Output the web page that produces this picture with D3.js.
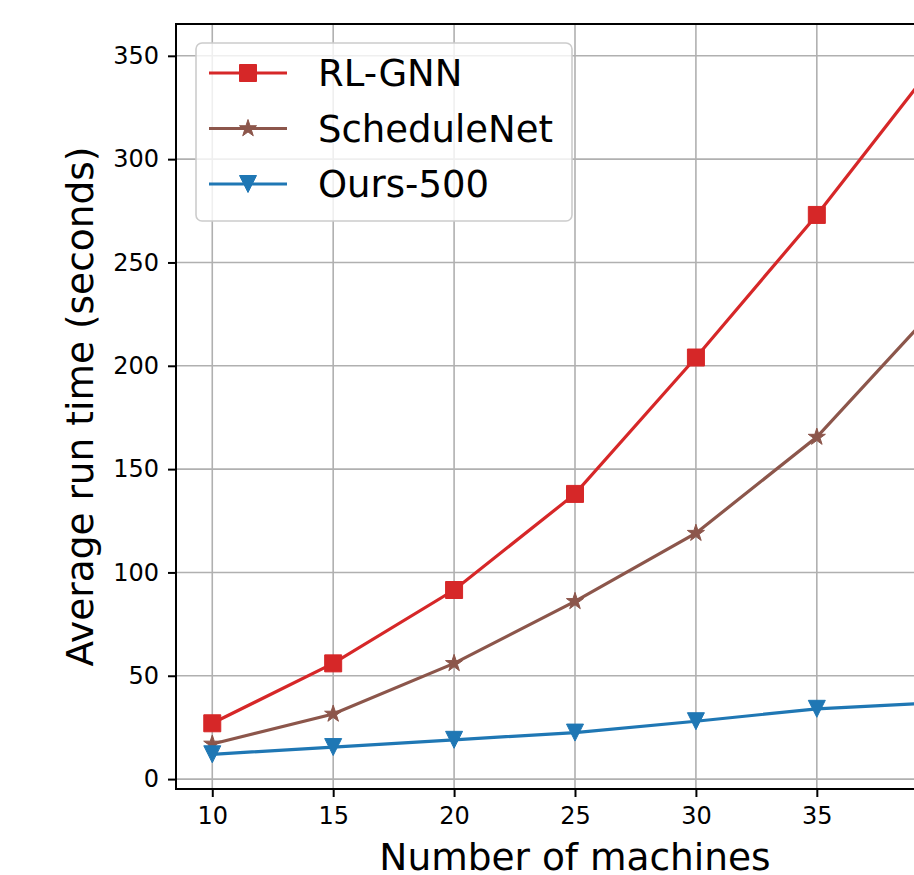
<!DOCTYPE html>
<html>
<head>
<meta charset="utf-8">
<script src="https://cdn.jsdelivr.net/npm/d3@7"></script>
<style>
  body { margin: 0; background: #fff; }
  svg { display: block; }
</style>
</head>
<body>
<div id="chart"></div>
<script>
// data
var machines = [10, 15, 20, 25, 30, 35, 40];
var rlGnn = [27, 56, 91.5, 138, 204, 273, 348];
var scheduleNet = [17, 31.5, 56, 86, 119, 165.5, 229];
var ours500 = [12, 15.5, 19, 22.5, 28, 34, 37];
var xTicks = [10, 15, 20, 25, 30, 35, 40];
var yTicks = [0, 50, 100, 150, 200, 250, 300, 350];

var series = [
    { name: "RL-GNN", values: rlGnn, color: "#d62728", marker: "square" },
    { name: "ScheduleNet", values: scheduleNet, color: "#8c564b", marker: "star" },
    { name: "Ours-500", values: ours500, color: "#1f77b4", marker: "tri" }
];

var width = 914, height = 875;
var axLeft = 176, axRight = 974, axTop = 24, axBottom = 789;

var svg = d3.select("#chart")
    .append("svg")
    .attr("width", width)
    .attr("height", height)
    .style("font-family", "DejaVu Sans");

// matplotlib style 5% margins
var xScale = d3.scaleLinear().domain([8.5, 41.5]).range([axLeft, axRight]);
var yScale = d3.scaleLinear().domain([-4.8, 365.4]).range([axBottom, axTop]);

// grid
var grid = svg.append("g");
grid.selectAll(".gx").data(xTicks).enter().append("line")
    .attr("x1", d => xScale(d)).attr("x2", d => xScale(d))
    .attr("y1", axTop).attr("y2", axBottom)
    .attr("stroke", "#b0b0b0").attr("stroke-width", 1.6);
grid.selectAll(".gy").data(yTicks).enter().append("line")
    .attr("x1", axLeft).attr("x2", axRight)
    .attr("y1", d => yScale(d)).attr("y2", d => yScale(d))
    .attr("stroke", "#b0b0b0").attr("stroke-width", 1.6);

// axes
var xAxis = svg.append("g")
    .attr("transform", `translate(0, ${axBottom})`)
    .call(d3.axisBottom(xScale).tickValues(xTicks).tickSize(8).tickPadding(10));
var yAxis = svg.append("g")
    .attr("transform", `translate(${axLeft}, 0)`)
    .call(d3.axisLeft(yScale).tickValues(yTicks).tickSize(8).tickPadding(9));

[xAxis, yAxis].forEach(function (a) {
    a.attr("font-size", null).attr("font-family", null);
    a.select(".domain").remove();
    a.selectAll("line").attr("stroke", "#000").attr("stroke-width", 2);
    a.selectAll("text")
        .style("font-family", "DejaVu Sans")
        .style("font-size", "24px")
        .attr("fill", "#000");
});

// spines
svg.append("rect")
    .attr("x", axLeft).attr("y", axTop)
    .attr("width", axRight - axLeft).attr("height", axBottom - axTop)
    .attr("fill", "none").attr("stroke", "#000").attr("stroke-width", 2);

// marker shapes
var ms = 17;
var markers = {
    square: {
        draw: function (ctx) {
            var h = ms / 2;
            ctx.moveTo(-h, -h); ctx.lineTo(h, -h); ctx.lineTo(h, h); ctx.lineTo(-h, h); ctx.closePath();
        }
    },
    tri: {
        draw: function (ctx) {
            var h = ms / 2;
            ctx.moveTo(0, h); ctx.lineTo(-h, -h); ctx.lineTo(h, -h); ctx.closePath();
        }
    },
    star: {
        draw: function (ctx) {
            var R = 9, r = R * 0.381966;
            for (var i = 0; i < 10; i++) {
                var rad = i % 2 === 0 ? R : r;
                var a = -Math.PI / 2 + i * Math.PI / 5;
                if (i === 0) ctx.moveTo(rad * Math.cos(a), rad * Math.sin(a));
                else ctx.lineTo(rad * Math.cos(a), rad * Math.sin(a));
            }
            ctx.closePath();
        }
    }
};

var line = d3.line()
    .x((d, i) => xScale(machines[i]))
    .y(d => yScale(d));

var lines = svg.append("g");
series.forEach(function (s) {
    var g = lines.append("g");
    g.append("path")
        .attr("d", line(s.values))
        .attr("fill", "none")
        .attr("stroke", s.color)
        .attr("stroke-width", 3.2);
    g.selectAll(".m").data(s.values).enter().append("path")
        .attr("d", d3.symbol().type(markers[s.marker]))
        .attr("transform", (d, i) => `translate(${xScale(machines[i])}, ${yScale(d)})`)
        .attr("fill", s.color)
        .attr("stroke", s.color)
        .attr("stroke-width", 1);
});

// legend
var legend = svg.append("g");
legend.append("rect")
    .attr("x", 196).attr("y", 43)
    .attr("width", 376).attr("height", 178)
    .attr("rx", 6)
    .attr("fill", "#fff").attr("fill-opacity", 0.8)
    .attr("stroke", "#cccccc").attr("stroke-width", 1.6);

var item = legend.selectAll(".legend")
    .data(series)
    .enter()
    .append("g")
    .attr("transform", (d, i) => `translate(0, ${73 + i * 55.5})`);
item.append("line")
    .attr("x1", 209).attr("x2", 287)
    .attr("stroke", d => d.color).attr("stroke-width", 3.2);
item.append("path")
    .attr("d", d => d3.symbol().type(markers[d.marker])())
    .attr("transform", "translate(248, 0)")
    .attr("fill", d => d.color)
    .attr("stroke", d => d.color);
item.append("text")
    .attr("x", 318)
    .attr("y", 0)
    .attr("dy", "0.36em")
    .style("font-size", "37px")
    .attr("fill", "#000")
    .text(d => d.name);

// axis labels
svg.append("text")
    .attr("x", (axLeft + axRight) / 2)
    .attr("y", 870)
    .attr("text-anchor", "middle")
    .style("font-size", "37.5px")
    .text("Number of machines");
svg.append("text")
    .attr("transform", `translate(93, ${(axTop + axBottom) / 2}) rotate(-90)`)
    .attr("text-anchor", "middle")
    .style("font-size", "37.5px")
    .text("Average run time (seconds)");
</script>
</body>
</html>
